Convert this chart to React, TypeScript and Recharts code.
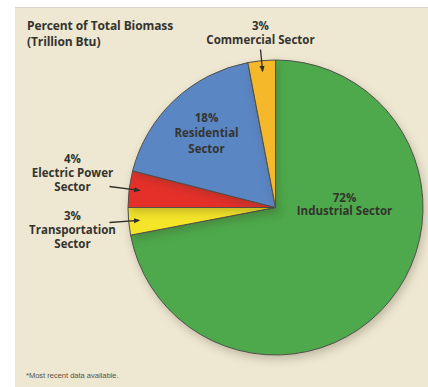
import { PieChart, Pie, Cell } from "recharts";

const sectors = ["Industrial Sector", "Transportation Sector", "Electric Power Sector", "Residential Sector", "Commercial Sector"];
const shares = [72, 3, 4, 18, 3];
const colors = ["#4da94b", "#f4e529", "#e5302a", "#5b86c4", "#f4b82a"];

const data = sectors.map((name, i) => ({ name, value: shares[i] }));

const RAD = Math.PI / 180;
const FONT = "'Open Sans', 'Liberation Sans', sans-serif";
const TEXT = "#34342f";

// label placement per slice (offsets from pie centre), arrow tails for outside labels
const labelLayout: Record<string, { lines: string[]; x: number; y: number; gap: number; tail?: [number, number] }> = {
  "Industrial Sector": { lines: ["72%", "Industrial Sector"], x: 69, y: -6, gap: 13.5 },
  "Transportation Sector": { lines: ["3%", "Transportation", "Sector"], x: -203, y: 12, gap: 14, tail: [-166, 15] },
  "Electric Power Sector": { lines: ["4%", "Electric Power", "Sector"], x: -203, y: -45, gap: 14, tail: [-166, -21] },
  "Residential Sector": { lines: ["18%", "Residential", "Sector"], x: -69, y: -86, gap: 15.5 },
  "Commercial Sector": { lines: ["3%", "Commercial Sector"], x: -15, y: -178, gap: 14, tail: [-15, -158] },
};

function renderLabel(props: any) {
  const { cx, cy, midAngle, outerRadius, name } = props;
  const cfg = labelLayout[name];
  if (!cfg) return null;
  const tipR = outerRadius * 0.93;
  const tipX = cx + tipR * Math.cos(-midAngle * RAD);
  const tipY = cy + tipR * Math.sin(-midAngle * RAD);
  return (
    <g>
      {cfg.tail && (
        <line
          x1={cx + cfg.tail[0]}
          y1={cy + cfg.tail[1]}
          x2={tipX}
          y2={tipY}
          stroke="#2e2e2a"
          strokeWidth={1.3}
          markerEnd="url(#arrowHead)"
        />
      )}
      <text
        x={cx + cfg.x}
        y={cy + cfg.y}
        textAnchor="middle"
        fill={TEXT}
        fontFamily={FONT}
        fontWeight={700}
        fontSize={11.5}
      >
        {cfg.lines.map((l, i) => (
          <tspan key={i} x={cx + cfg.x} dy={i === 0 ? 0 : cfg.gap}>
            {l}
          </tspan>
        ))}
      </text>
    </g>
  );
}

const titleStyle = {
  position: "absolute" as const,
  left: 27,
  fontFamily: FONT,
  fontWeight: 700,
  fontSize: 12,
  lineHeight: "14px",
  color: TEXT,
  letterSpacing: -0.1,
  whiteSpace: "nowrap" as const,
};

export default function App() {
  return (
    <div style={{ position: "absolute", left: 0, top: 0, width: 428, height: 387, background: "#ffffff", overflow: "hidden" }}>
      <style>{`.recharts-pie-sector { filter: drop-shadow(2px 4px 4px rgba(60,50,30,0.25)); }`}</style>
      <div
        style={{
          position: "absolute",
          left: 15,
          top: 7,
          width: 413,
          height: 380,
          background: "#eee7d1",
          borderTop: "1px solid #d8d4c8",
        }}
      />
      <div style={{ ...titleStyle, top: 19 }}>Percent of Total Biomass</div>
      <div style={{ ...titleStyle, top: 35 }}>(Trillion Btu)</div>
      <div style={{ position: "absolute", left: 0, top: 0 }}>
        <PieChart width={428} height={387} margin={{ top: 0, right: 0, bottom: 0, left: 0 }}>
          <defs>
            <marker id="arrowHead" viewBox="0 0 10 10" refX="8" refY="5" markerWidth="5" markerHeight="5" orient="auto">
              <path d="M0,1 L10,5 L0,9 z" fill="#2e2e2a" />
            </marker>
          </defs>
          <Pie
            data={data}
            dataKey="value"
            nameKey="name"
            cx={275.5}
            cy={207.5}
            outerRadius={147.5}
            startAngle={90}
            endAngle={-270}
            stroke="#4f4f4a"
            strokeWidth={1}
            label={renderLabel}
            labelLine={false}
            isAnimationActive={false}
          >
            {data.map((d, i) => (
              <Cell key={d.name} fill={colors[i]} />
            ))}
          </Pie>
        </PieChart>
      </div>
      <div
        style={{
          position: "absolute",
          left: 26,
          top: 371,
          fontFamily: "'Liberation Sans', sans-serif",
          fontSize: 7.5,
          color: "#55534c",
        }}
      >
        *Most recent data available.
      </div>
    </div>
  );
}
